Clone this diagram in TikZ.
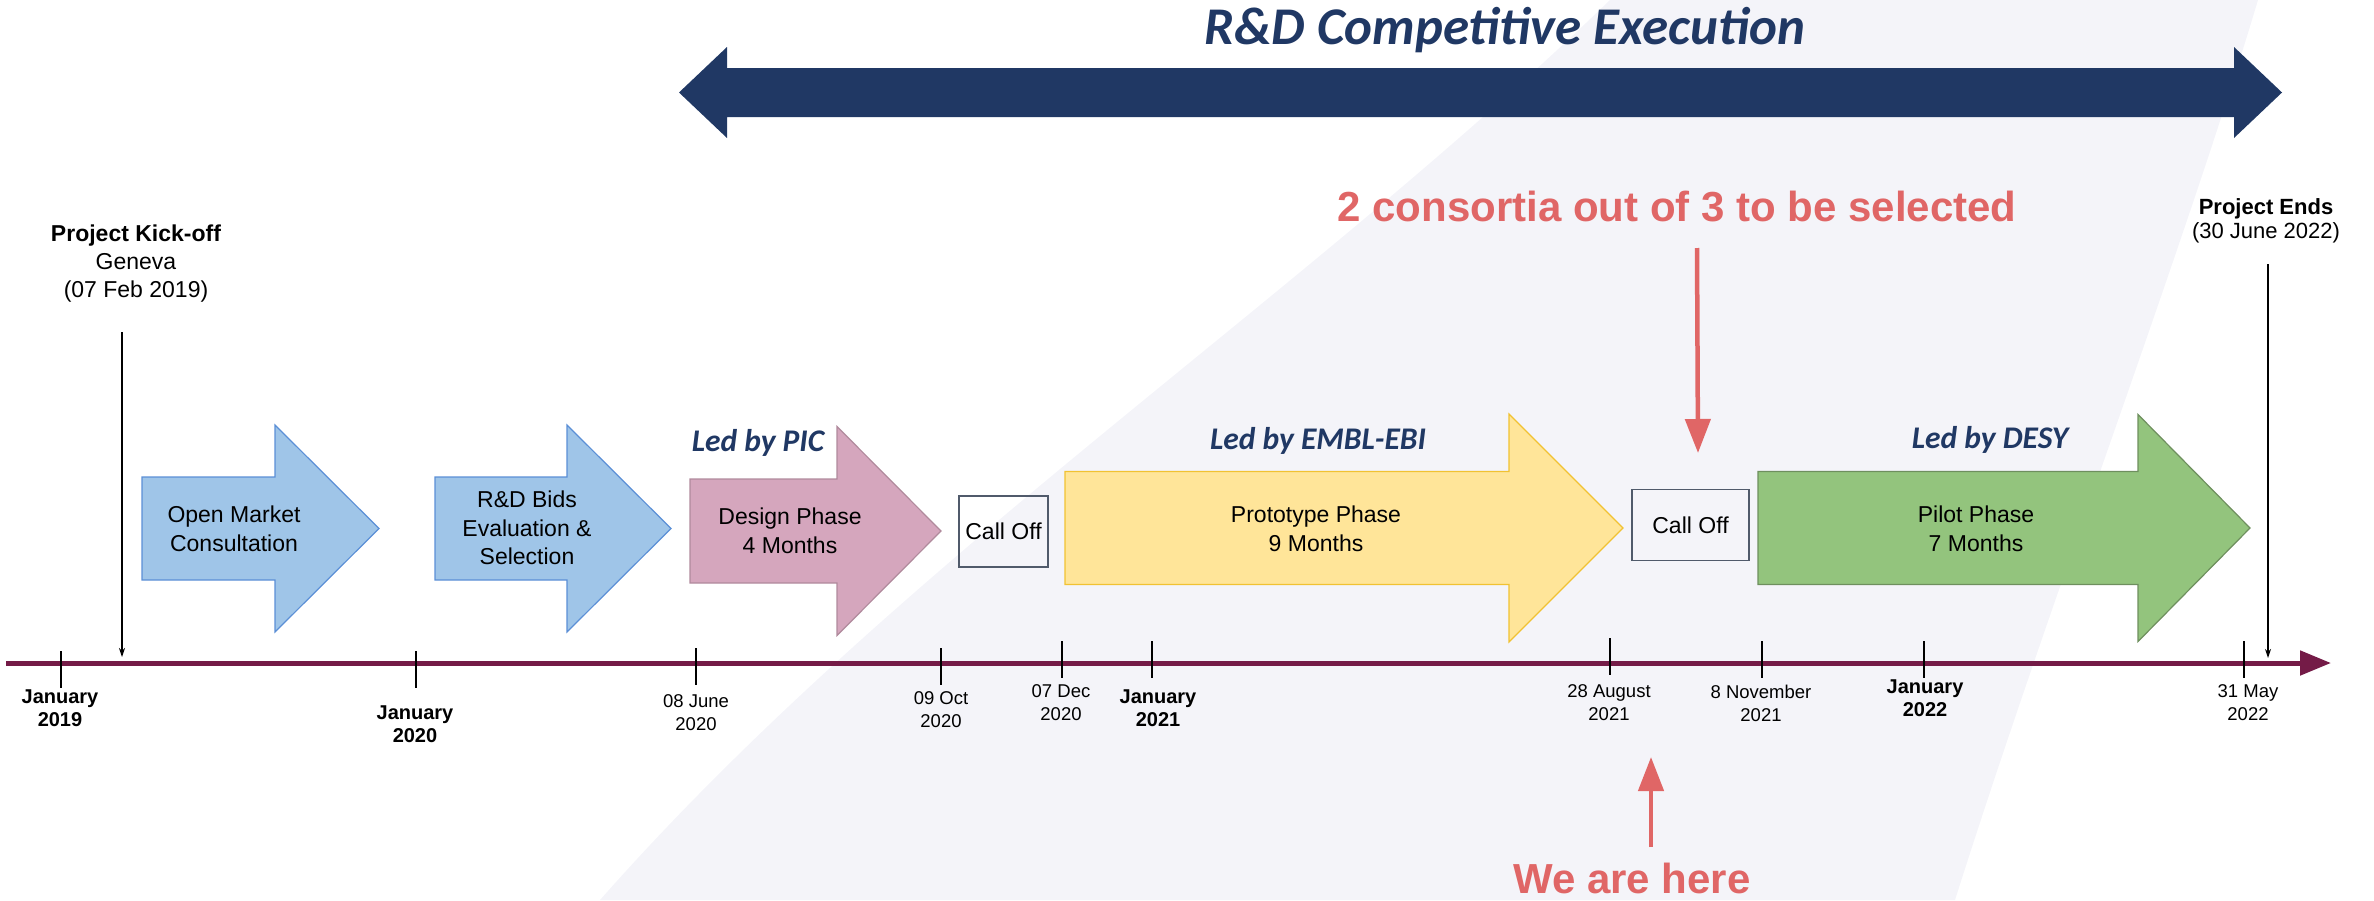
\documentclass[tikz,border=0pt]{standalone}
\usepackage{fontspec}
\setmainfont{Liberation Sans}
\newfontfamily\ledfont{Carlito}
\usetikzlibrary{arrows.meta,positioning,calc}

\definecolor{navy}{HTML}{203864}
\definecolor{maroon}{HTML}{741B47}
\definecolor{notered}{HTML}{E06666}
\definecolor{swoosh}{HTML}{F4F4F9}
\definecolor{callgray}{HTML}{505A6B}
\definecolor{bluefill}{HTML}{9FC5E8}
\definecolor{blueline}{HTML}{5B8FD6}
\definecolor{pinkfill}{HTML}{D5A6BD}
\definecolor{pinkline}{HTML}{B08A9C}
\definecolor{yellowfill}{HTML}{FFE599}
\definecolor{yellowline}{HTML}{F1C232}
\definecolor{greenfill}{HTML}{93C47D}
\definecolor{greenline}{HTML}{6E8F5E}

% block arrow: style, tail x, head x, tip x, centre y, shaft half, head half
\newcommand{\phasearrow}[7]{%
  \draw[#1] (#2,#5-#6) -- (#3,#5-#6) -- (#3,#5-#7) -- (#4,#5)
    -- (#3,#5+#7) -- (#3,#5+#6) -- (#2,#5+#6) -- cycle;}

\tikzset{
  phase/.style={line width=1.2pt, line join=miter},
  bluephase/.style={phase, fill=bluefill, draw=blueline},
  pinkphase/.style={phase, fill=pinkfill, draw=pinkline},
  yellowphase/.style={phase, fill=yellowfill, draw=yellowline},
  greenphase/.style={phase, fill=greenfill, draw=greenline},
  phasetext/.style={align=center, inner sep=0pt,
    font=\fontsize{23}{28.5}\selectfont},
  calloff/.style={draw=callgray, line width=1.5pt, inner sep=0pt,
    minimum height=71pt, font=\fontsize{23}{28}\selectfont},
  ledby/.style={anchor=base, inner sep=0pt, text=navy,
    font=\ledfont\bfseries\itshape\fontsize{31.5}{36}\selectfont},
  title/.style={anchor=base, inner sep=0pt, text=navy,
    font=\ledfont\bfseries\itshape\fontsize{53}{60}\selectfont},
  datelabel/.style={align=center, inner sep=0pt,
    font=\fontsize{18.5}{23}\selectfont},
  yearlabel/.style={align=center, inner sep=0pt,
    font=\bfseries\fontsize{20}{23}\selectfont},
  tickmark/.style={line width=2.6pt},
  timeline/.style={draw=maroon, line width=5pt,
    -{Triangle[length=31pt,width=24pt]}},
  milestone/.style={line width=1.3pt, -{Stealth[length=9pt,width=6pt]}},
  milestonetext/.style={align=center, inner sep=0pt,
    font=\fontsize{23}{28}\selectfont},
  note/.style={anchor=base, inner sep=0pt, text=notered,
    font=\bfseries\fontsize{42}{48}\selectfont},
  notearrow/.style={draw=notered, line width=4.5pt,
    -{Triangle[length=34pt,width=25pt]}},
}

\begin{document}
\begin{tikzpicture}[x=1pt, y=-1pt]
\useasboundingbox (0,0) rectangle (2374,900);

% faint logo band in the background
\fill[swoosh] (1610,0) -- (2258,0) .. controls (2180,260) and (2050,600) .. (1955,900)
  -- (600,900) .. controls (900,560) and (1300,300) .. (1610,0);

% competitive execution span
\node[title] (title) at (1505,44) {R\&D Competitive Execution};
\fill[navy] (679,92.5) -- (727,47) -- (727,68) -- (2234,68) -- (2234,47) -- (2282,92.5)
  -- (2234,138) -- (2234,117) -- (727,117) -- (727,138) -- cycle;

% time axis
\coordinate (tl-start) at (6,663);
\coordinate (tl-end) at (2331,663);
\draw[timeline] (tl-start) -- (tl-end);

\foreach \tx/\ttop/\lx/\ly/\yr in {61/651/60/708/2019, 416/651/415/724/2020,
    1152/641/1158/708/2021, 1924/641/1925/698/2022}
{
  \draw[tickmark] (\tx,\ttop) -- (\tx,\ttop+37);
  \node[yearlabel] (jan-\yr) at (\lx,\ly) {January\\\yr};
}

\foreach \tx/\ttop/\lx/\ly/\day/\yr [count=\i] in {696/648/696/713/{08 June}/2020,
    941/648/941/710/{09 Oct}/2020, 1062/641/1061/703/{07 Dec}/2020,
    1610/638/1609/703/{28 August}/2021, 1762/641/1761/703/{8 November}/2021,
    2244/641/2248/703/{31 May}/2022}
{
  \draw[tickmark] (\tx,\ttop) -- (\tx,\ttop+37);
  \node[datelabel] (date-\i) at (\lx,\ly) {\day\\\yr};
}

% phases
\phasearrow{bluephase}{142}{275}{379}{528.5}{51.5}{103.5}
\node[phasetext] (omc) at (234,529) {Open Market\\Consultation};

\phasearrow{bluephase}{435}{567}{671}{528.5}{51.5}{103.5}
\node[phasetext] (bids) at (527,528) {R\&D Bids\\Evaluation \&\\Selection};

\phasearrow{pinkphase}{690}{837}{941}{531}{52}{104.5}
\node[phasetext] (design) at (790,531) {Design Phase\\4 Months};
\node[ledby] (led-pic) at (758,451) {Led by PIC};

\node[calloff, minimum width=89pt] (calloff1) at (1003.5,531.5) {Call Off};

\phasearrow{yellowphase}{1065}{1509}{1623}{528}{56.5}{114}
\node[phasetext] (prototype) at (1316,529) {Prototype Phase\\9 Months};
\node[ledby] (led-embl) at (1318,449) {Led by EMBL-EBI};

\node[calloff, minimum width=117pt] (calloff2) at (1690.5,525) {Call Off};

\phasearrow{greenphase}{1758}{2138}{2250}{528}{56.5}{113.5}
\node[phasetext] (pilot) at (1976,529) {Pilot Phase\\7 Months};
\node[ledby] (led-desy) at (1990,448) {Led by DESY};

% milestones
\node[milestonetext] (kickoff) at (136,264)
  {\textbf{Project Kick-off}\\Geneva\\(07 Feb 2019)};
\coordinate (kickoff-top) at (122,332);
\coordinate (kickoff-end) at (122,657);
\draw[milestone] (kickoff-top) -- (kickoff-end);

\node[milestonetext, font=\fontsize{22}{24}\selectfont] (ends) at (2266,221)
  {\textbf{Project Ends}\\(30 June 2022)};
\coordinate (ends-top) at (2268,264);
\coordinate (ends-end) at (2268,658);
\draw[milestone] (ends-top) -- (ends-end);

% status notes
\node[note] (select) at (1677,221) {2 consortia out of 3 to be selected};
\coordinate (select-top) at (1697,248);
\coordinate (select-end) at (1698,453);
\draw[notearrow] (select-top) -- (select-end);

\node[note] (here) at (1632,893) {We are here};
\coordinate (here-bottom) at (1651,847);
\coordinate (here-end) at (1651,757);
\draw[notearrow] (here-bottom) -- (here-end);

\end{tikzpicture}
\end{document}
